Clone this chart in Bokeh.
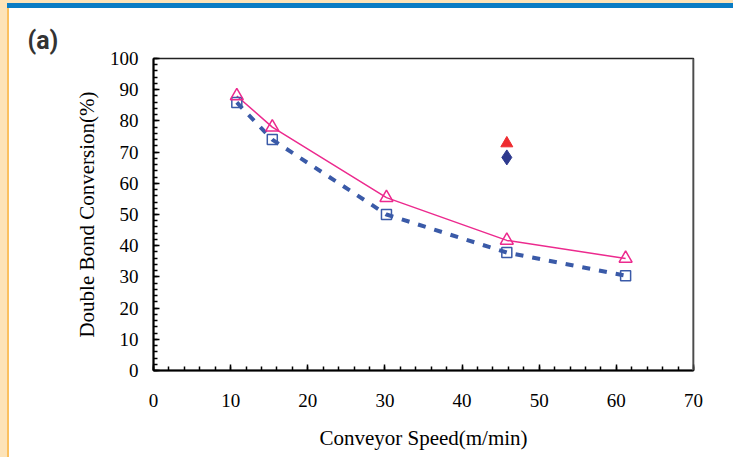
from bokeh.plotting import figure
from bokeh.models import Range1d, Span, FixedTicker, Title, InlineStyleSheet
from bokeh.embed import file_html
from bokeh.resources import INLINE

speed = [10.8, 15.4, 30.2, 45.8, 61.2]
tri_vals = [88.0, 78.0, 55.4, 41.7, 35.9]
sq_vals = [85.9, 74.0, 50.0, 37.8, 30.4]
extra_x = [45.8]
extra_tri = [72.8]
extra_dia = [68.3]
x_ticks = [0, 10, 20, 30, 40, 50, 60, 70]
y_ticks = [0, 10, 20, 30, 40, 50, 60, 70, 80, 90, 100]

PINK = "#ec2a8e"
BLUE = "#3a5aa8"

W, H = 733, 457
FL, FT, FR, FB = 153, 58, 693, 370

css = InlineStyleSheet(css="""
:host {
  background:
    linear-gradient(#0a7cc4, #0a7cc4) 7px 3px / 100% 5px no-repeat,
    linear-gradient(#fde3b8, #fde3b8) 0 0 / 100% 3px no-repeat,
    linear-gradient(to right, #fde3b8 0px, #fde3b8 7px, #fbc060 7px, #fbc060 9px, #ffffff 9px);
}
""")

p = figure(width=W, height=H, output_backend="svg", toolbar_location=None,
           x_range=Range1d(0, 70), y_range=Range1d(0, 100),
           min_border_left=FL, min_border_right=W - FR, min_border_top=FT, min_border_bottom=H - FB,
           stylesheets=[css])
p.grid.visible = False
p.outline_line_color = "#222222"
p.outline_line_width = 1.5
p.background_fill_color = "white"
p.border_fill_alpha = 0

for ax in (p.xaxis[0], p.yaxis[0]):
    ax.axis_line_color = "black"
    ax.axis_line_width = 2
    ax.major_tick_in = 6
    ax.major_tick_out = 0
    ax.minor_tick_in = 4
    ax.minor_tick_out = 0
    ax.major_tick_line_color = "black"
    ax.minor_tick_line_color = "black"
    ax.major_tick_line_width = 1.5
    ax.minor_tick_line_width = 1.5
    ax.major_label_text_font = "Liberation Serif"
    ax.major_label_text_font_size = "19px"
    ax.major_label_text_color = "black"
    ax.axis_label_text_font = "Liberation Serif"
    ax.axis_label_text_font_size = "21px"
    ax.axis_label_text_font_style = "normal"
    ax.axis_label_text_color = "black"

p.xaxis[0].ticker = FixedTicker(ticks=x_ticks, minor_ticks=list(range(0, 71, 2)))
p.yaxis[0].ticker = FixedTicker(ticks=y_ticks, minor_ticks=list(range(0, 101, 2)))
p.xaxis[0].axis_label = "Conveyor Speed(m/min)"
p.yaxis[0].axis_label = "Double Bond Conversion(%)"
p.xaxis[0].major_label_standoff = 23
p.yaxis[0].major_label_standoff = 15
p.xaxis[0].axis_label_standoff = 16
p.yaxis[0].axis_label_standoff = 8

p.add_layout(Span(location=70, dimension="height", line_color="#777777", line_width=2.5))

p.add_layout(Title(text="(a)", align="left", offset=27 - FL, standoff=7,
                   text_font="Roboto", text_font_style="bold", text_font_size="25px",
                   text_color="#333333"), "above")

p.line(speed, sq_vals, line_color=BLUE, line_width=4, line_dash="8 9")
p.line(speed, tri_vals, line_color=PINK, line_width=1.5)
p.scatter(speed, sq_vals, marker="square", size=10, line_color=BLUE, line_width=1.5, fill_alpha=0)
p.scatter(speed, tri_vals, marker="triangle", size=13, line_color=PINK, line_width=1.5, fill_alpha=0)
p.scatter(extra_x, extra_tri, marker="triangle", size=12, line_color="#ee2b2f", fill_color="#ee2b2f")
p.scatter(extra_x, extra_dia, marker="diamond", size=15, line_color="#2e3a8e", fill_color="#2e3a8e")

open("out.html", "w").write(file_html(p, INLINE))
